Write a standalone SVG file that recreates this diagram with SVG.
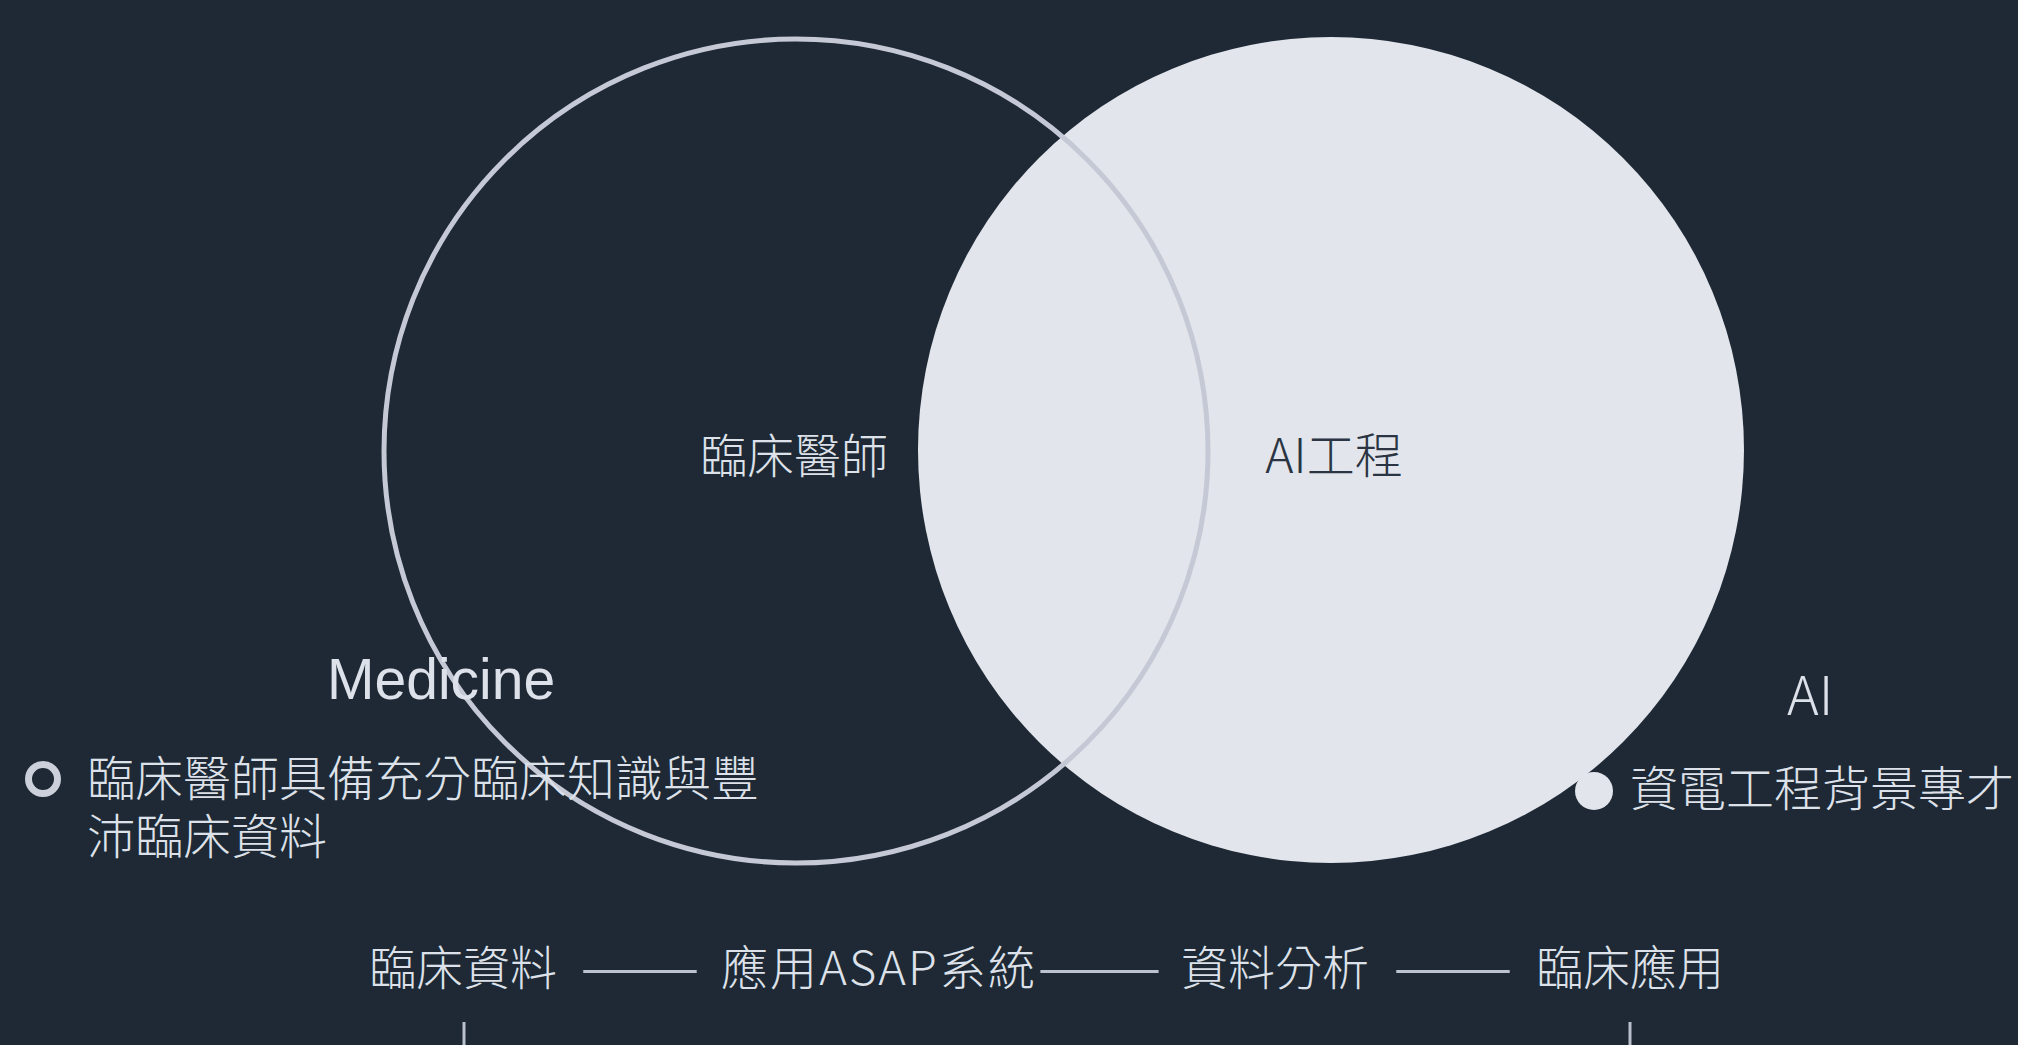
<svg xmlns="http://www.w3.org/2000/svg" width="2018" height="1045" viewBox="0 0 2018 1045">
  <style>
    .cjk { font-family: "Noto Sans CJK TC", "Noto Sans", sans-serif; font-weight: 300; }
    .lt { fill: #dde1e9; }
    .dk { fill: #2a3443; }
    .lat { font-family: "Liberation Sans", Arial, sans-serif; }
    .dash { font-family: "Noto Sans CJK TC", "Noto Sans", sans-serif; font-weight: 400; fill: #bcc3cf; }
  </style>
  <rect x="0" y="0" width="2018" height="1045" fill="#1e2935"/>

  <g id="node-ai-circle">
    <circle cx="1331" cy="450" r="413" fill="#e2e5eb"/>
    <text class="cjk dk" x="1334" y="473" font-size="48" text-anchor="middle">AI工程</text>
  </g>

  <g id="node-medicine-circle">
    <circle cx="796" cy="451" r="412" fill="none" stroke="#c5c9d5" stroke-width="5"/>
    <text class="cjk lt" x="794" y="473" font-size="47" text-anchor="middle">臨床醫師</text>
  </g>

  <g id="node-medicine-label">
    <text class="lat lt" x="327" y="699" font-size="57">Medicine</text>
  </g>

  <g id="node-medicine-bullet">
    <circle cx="43" cy="779" r="14.5" fill="none" stroke="#ccd0da" stroke-width="7"/>
    <text class="cjk lt" font-size="48"><tspan x="87" y="796">臨床醫師具備充分臨床知識與豐</tspan><tspan x="87" y="854">沛臨床資料</tspan></text>
  </g>

  <g id="node-ai-label">
    <text class="cjk lt" x="1787" y="715" font-size="54">AI</text>
  </g>

  <g id="node-ai-bullet">
    <circle cx="1594" cy="791" r="19" fill="#e2e5eb"/>
    <text class="cjk lt" x="1630" y="806" font-size="48">資電工程背景專才</text>
  </g>

  <g id="node-flow">
    <text class="cjk lt" x="369" y="985" font-size="47">臨床資料</text>
    <text class="cjk lt" x="721" y="985" font-size="47" textLength="314" lengthAdjust="spacing">應用ASAP系統</text>
    <text class="cjk lt" x="1181" y="985" font-size="47">資料分析</text>
    <text class="cjk lt" x="1536" y="985" font-size="47">臨床應用</text>
  </g>

  <g id="connectors">
    <text class="dash" x="580" y="985" font-size="47" textLength="120" lengthAdjust="spacingAndGlyphs">——</text>
    <text class="dash" x="1037" y="985" font-size="47" textLength="125" lengthAdjust="spacingAndGlyphs">——</text>
    <text class="dash" x="1393" y="985" font-size="47" textLength="120" lengthAdjust="spacingAndGlyphs">——</text>
    <line x1="464" y1="1022" x2="464" y2="1045" stroke="#b9c0cc" stroke-width="3"/>
    <line x1="1630" y1="1022" x2="1630" y2="1045" stroke="#b9c0cc" stroke-width="3"/>
  </g>
</svg>
